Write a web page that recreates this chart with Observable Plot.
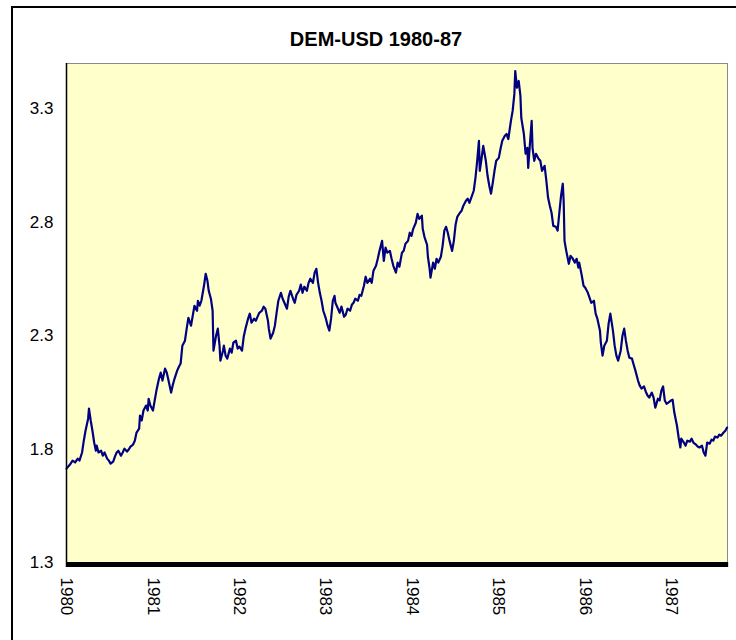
<!DOCTYPE html>
<html>
<head>
<meta charset="utf-8">
<script src="https://cdn.jsdelivr.net/npm/d3@7"></script>
<script src="https://cdn.jsdelivr.net/npm/@observablehq/plot@0.6"></script>
<style>
html,body{margin:0;padding:0;background:#fff;overflow:hidden}
#wrap{position:relative;width:736px;height:640px;font-family:Arial,"Liberation Sans",sans-serif}
#border{position:absolute;left:11px;top:6px;width:760px;height:700px;border:2px solid #000;box-sizing:border-box;pointer-events:none}
#title{position:absolute;left:11px;width:730px;top:28px;text-align:center;font-weight:bold;font-size:20px;line-height:normal;color:#000}
#chart{position:absolute;left:0;top:0}
#chart svg text{font-family:Arial,"Liberation Sans",sans-serif !important}
</style>
</head>
<body>
<div id="wrap">
  <div id="chart"></div>
  <div id="border"></div>
  <div id="title">DEM-USD 1980-87</div>
</div>
<script>
// DEM per USD, [fraction of year, rate]
const dem1980 = [[0.00,1.714],[0.04,1.732],[0.07,1.749],[0.10,1.741],[0.13,1.758],[0.15,1.749],[0.18,1.785],[0.20,1.837],[0.22,1.881],[0.25,1.934],[0.26,1.978],[0.28,1.926],[0.30,1.881],[0.32,1.829],[0.34,1.793],[0.35,1.815],[0.37,1.785],[0.40,1.793],[0.42,1.771],[0.44,1.785],[0.47,1.758],[0.49,1.749],[0.51,1.736],[0.54,1.745],[0.56,1.767],[0.58,1.785],[0.60,1.793],[0.63,1.771],[0.65,1.785],[0.67,1.802],[0.70,1.789],[0.72,1.798],[0.74,1.811],[0.77,1.820],[0.79,1.837],[0.81,1.873],[0.84,1.890],[0.85,1.948],[0.87,1.926],[0.89,1.970],[0.92,1.992],[0.94,1.970],[0.95,2.022],[0.97,1.992]];
const dem1981 = [[0.00,1.970],[0.02,2.014],[0.04,2.058],[0.07,2.111],[0.09,2.137],[0.11,2.102],[0.14,2.155],[0.16,2.137],[0.18,2.102],[0.21,2.049],[0.23,2.084],[0.25,2.111],[0.28,2.146],[0.30,2.163],[0.32,2.177],[0.34,2.256],[0.37,2.278],[0.39,2.331],[0.41,2.379],[0.44,2.344],[0.46,2.388],[0.48,2.432],[0.51,2.410],[0.52,2.454],[0.54,2.432],[0.56,2.454],[0.59,2.520],[0.61,2.573],[0.63,2.542],[0.645,2.498],[0.67,2.463],[0.69,2.410],[0.70,2.234],[0.73,2.300],[0.75,2.331],[0.77,2.256],[0.78,2.190],[0.81,2.234],[0.82,2.256],[0.84,2.212],[0.86,2.199],[0.89,2.243],[0.91,2.225],[0.93,2.269],[0.96,2.278],[0.98,2.243]];
const dem1982 = [[0.00,2.252],[0.03,2.234],[0.05,2.296],[0.07,2.331],[0.10,2.375],[0.12,2.397],[0.14,2.357],[0.17,2.375],[0.19,2.366],[0.21,2.384],[0.23,2.401],[0.26,2.410],[0.28,2.428],[0.30,2.419],[0.33,2.366],[0.34,2.331],[0.36,2.287],[0.39,2.313],[0.41,2.344],[0.43,2.401],[0.45,2.454],[0.48,2.489],[0.50,2.463],[0.52,2.445],[0.55,2.419],[0.57,2.472],[0.59,2.498],[0.62,2.463],[0.64,2.445],[0.66,2.480],[0.69,2.498],[0.71,2.525],[0.73,2.489],[0.75,2.516],[0.78,2.498],[0.80,2.533],[0.82,2.551],[0.85,2.533],[0.87,2.578],[0.89,2.595],[0.91,2.533],[0.93,2.489],[0.95,2.454],[0.97,2.410]];
const dem1983 = [[0.00,2.375],[0.02,2.344],[0.04,2.322],[0.06,2.375],[0.08,2.454],[0.10,2.476],[0.11,2.445],[0.14,2.419],[0.16,2.401],[0.18,2.428],[0.21,2.384],[0.23,2.392],[0.25,2.419],[0.28,2.410],[0.30,2.436],[0.32,2.445],[0.34,2.463],[0.37,2.454],[0.39,2.480],[0.41,2.476],[0.44,2.520],[0.46,2.560],[0.48,2.533],[0.51,2.551],[0.53,2.533],[0.55,2.586],[0.58,2.608],[0.60,2.639],[0.62,2.674],[0.65,2.718],[0.67,2.630],[0.69,2.688],[0.71,2.666],[0.74,2.674],[0.76,2.639],[0.78,2.608],[0.81,2.578],[0.83,2.622],[0.85,2.604],[0.88,2.666],[0.90,2.674],[0.92,2.705],[0.95,2.718],[0.97,2.754],[0.99,2.740]];
const dem1984 = [[0.01,2.771],[0.04,2.798],[0.06,2.837],[0.08,2.815],[0.11,2.829],[0.12,2.771],[0.14,2.736],[0.17,2.701],[0.18,2.648],[0.20,2.595],[0.21,2.556],[0.24,2.622],[0.26,2.595],[0.28,2.639],[0.30,2.622],[0.33,2.648],[0.35,2.696],[0.37,2.763],[0.39,2.780],[0.41,2.754],[0.43,2.718],[0.46,2.674],[0.48,2.718],[0.50,2.789],[0.52,2.824],[0.55,2.842],[0.57,2.851],[0.59,2.873],[0.62,2.895],[0.64,2.904],[0.66,2.886],[0.69,2.917],[0.71,2.939],[0.73,2.996],[0.75,3.071],[0.77,3.159],[0.78,3.027],[0.80,3.080],[0.82,3.137],[0.85,3.071],[0.87,3.005],[0.89,2.961],[0.91,2.926],[0.93,2.974],[0.95,3.027],[0.97,3.071]];
const dem1985 = [[0.00,3.084],[0.02,3.124],[0.04,3.159],[0.07,3.181],[0.09,3.189],[0.11,3.167],[0.14,3.247],[0.16,3.291],[0.18,3.366],[0.19,3.467],[0.21,3.393],[0.23,3.423],[0.25,3.357],[0.26,3.260],[0.29,3.189],[0.31,3.102],[0.33,3.128],[0.34,3.040],[0.36,3.146],[0.38,3.247],[0.39,3.128],[0.41,3.071],[0.43,3.102],[0.46,3.080],[0.48,3.071],[0.50,3.027],[0.53,3.049],[0.55,2.983],[0.57,2.908],[0.59,2.873],[0.61,2.842],[0.63,2.784],[0.66,2.780],[0.68,2.763],[0.70,2.842],[0.72,2.917],[0.74,2.970],[0.75,2.895],[0.76,2.718],[0.78,2.674],[0.81,2.617],[0.83,2.652],[0.85,2.643],[0.88,2.622],[0.90,2.639],[0.92,2.600],[0.93,2.622],[0.96,2.564],[0.98,2.520]];
const dem1986 = [[0.00,2.511],[0.03,2.489],[0.05,2.467],[0.07,2.445],[0.10,2.454],[0.12,2.397],[0.14,2.375],[0.17,2.322],[0.18,2.269],[0.20,2.212],[0.22,2.256],[0.25,2.278],[0.27,2.353],[0.29,2.397],[0.32,2.322],[0.34,2.256],[0.36,2.212],[0.38,2.190],[0.41,2.234],[0.43,2.300],[0.45,2.331],[0.47,2.278],[0.49,2.234],[0.51,2.203],[0.54,2.199],[0.56,2.172],[0.58,2.146],[0.61,2.102],[0.63,2.080],[0.65,2.067],[0.68,2.076],[0.70,2.053],[0.72,2.036],[0.74,2.027],[0.77,2.049],[0.79,2.027],[0.81,1.983],[0.84,2.022],[0.86,2.014],[0.88,2.058],[0.90,2.076],[0.92,2.014],[0.94,2.000],[0.96,2.005],[0.99,2.014]];
const dem1987 = [[0.01,2.018],[0.03,1.961],[0.06,1.904],[0.08,1.851],[0.10,1.807],[0.11,1.846],[0.14,1.829],[0.16,1.815],[0.18,1.837],[0.21,1.833],[0.23,1.846],[0.25,1.829],[0.28,1.820],[0.30,1.811],[0.32,1.807],[0.35,1.815],[0.37,1.785],[0.39,1.771],[0.41,1.829],[0.44,1.824],[0.46,1.842],[0.48,1.837],[0.50,1.855],[0.53,1.851],[0.55,1.864],[0.57,1.859],[0.60,1.873],[0.62,1.881],[0.64,1.895]];

const yearLabels = [1980, 1981, 1982, 1983, 1984, 1985, 1986, 1987];
const yTickValues = [1.3, 1.8, 2.3, 2.8, 3.3];
const xDomain = [1980, 1987.645];
const yDomain = [1.3, 3.5];

const byYear = [[1980, dem1980], [1981, dem1981], [1982, dem1982], [1983, dem1983],
                [1984, dem1984], [1985, dem1985], [1986, dem1986], [1987, dem1987]];
const data = byYear.flatMap(([yr, arr]) => arr.map(([f, v]) => ({t: yr + f, v})));

// dense category tick marks forming the heavy axis band
const denseTicks = d3.range(xDomain[0], xDomain[1], 0.004);

const chart = Plot.plot({
  width: 736,
  height: 640,
  marginLeft: 66,
  marginRight: 9,
  marginTop: 63,
  marginBottom: 78,
  style: {fontFamily: 'Arial, "Liberation Sans", sans-serif', fontSize: "17px", background: "transparent", overflow: "visible", color: "#000"},
  x: {domain: xDomain, label: null},
  y: {domain: yDomain, label: null},
  marks: [
    Plot.frame({fill: "#FFFFCC", stroke: "#8a8a8a"}),
    Plot.lineY(data, {x: "t", y: "v", stroke: "#000080", strokeWidth: 2.2, strokeLinejoin: "round"}),
    Plot.ruleX([xDomain[0]], {stroke: "#000", strokeWidth: 1.5}),
    Plot.axisX({ticks: denseTicks, tickSize: 5, tickFormat: () => "", strokeWidth: 1.5}),
    Plot.axisX({ticks: yearLabels, tickSize: 0, tickPadding: 15, tickRotate: 90, textAnchor: "start", lineAnchor: "middle", fontSize: 17, tickFormat: d => String(d)}),
    Plot.axisY({ticks: yTickValues, tickSize: 0, tickPadding: 13, fontSize: 17, tickFormat: d => d.toFixed(1)})
  ]
});
document.getElementById("chart").appendChild(chart);
</script>
</body>
</html>
